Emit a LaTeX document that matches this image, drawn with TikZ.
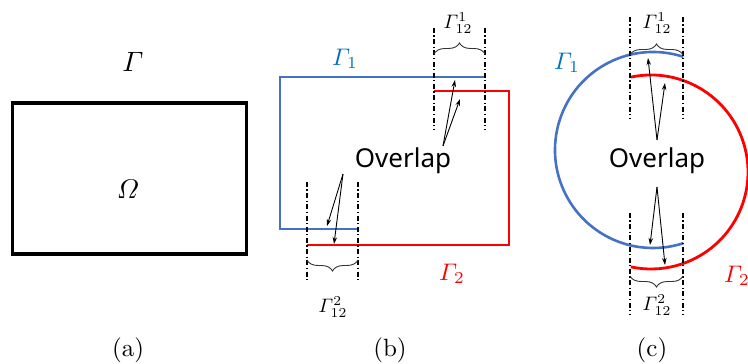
\documentclass[tikz,border=0pt]{standalone}
\usepackage{amsmath}
\usepackage{fontspec}
\newfontfamily\olfont{Noto Sans}
\usetikzlibrary{arrows.meta,decorations.pathreplacing}
\definecolor{gblue}{HTML}{4472C4}
\definecolor{lblue}{HTML}{0070C0}
\definecolor{gred}{HTML}{FF0000}
\tikzset{
  bline/.style={gblue,line width=2.6pt},
  rline/.style={gred,line width=2.8pt},
  dd/.style={black,line width=1.1pt,dash pattern=on 5pt off 2.5pt on 1.2pt off 2.5pt},
  brc/.style={decorate,decoration={brace,amplitude=11pt},line width=0.9pt,black!80},
  ptr/.style={-{Stealth[length=7pt,width=4.5pt]},line width=0.9pt},
  lab/.style={scale=2.5},
  glab/.style={scale=2.4},
  slab/.style={scale=1.95},
  ovl/.style={font=\olfont\fontsize{26}{30}\selectfont}
}
\begin{document}
\begin{tikzpicture}[x=1pt,y=1pt]
\useasboundingbox (0,0) rectangle (748,364);
% (a)
\node[draw,line width=3.4pt,minimum width=234pt,minimum height=151pt,inner sep=0pt] (rect) at (129.5,185.5) {};
\node[scale=2.8] (G) at (133,302) {$\varGamma$};
\node[scale=2.7] (Om) at (128,175) {$\varOmega$};
\node[lab] (capa) at (128,14) {(a)};
% (b)
\draw[bline] (358,135) -- (280,135) -- (280,287) -- (485,287);
\draw[rline] (307,119) -- (509,119) -- (509,273) -- (434,273);
\draw[dd] (434,336) -- (434,234);
\draw[dd] (485,336) -- (485,234);
\draw[dd] (307,182) -- (307,82);
\draw[dd] (358,182) -- (358,82);
\draw[brc] (434,310) -- (485,310);
\draw[brc] (358,104) -- (307,104);
\node[slab] (g121b) at (458,341) {$\varGamma_{12}^{1}$};
\node[slab] (g122b) at (333,57) {$\varGamma_{12}^{2}$};
\node[glab,text=lblue] (g1b) at (345,305) {$\varGamma_1$};
\node[glab,text=gred] (g2b) at (452,90) {$\varGamma_2$};
\node[ovl] (ovb) at (403,203) {Overlap};
\coordinate (bt) at (443,218);
\coordinate (bb) at (343,190);
\coordinate (bt1) at (455,284);
\coordinate (bt2) at (460,265);
\coordinate (bb1) at (327,138);
\coordinate (bb2) at (334,120);
\draw[ptr] (bt) -- (bt1);
\draw[ptr] (bt) -- (bt2);
\draw[ptr] (bb) -- (bb1);
\draw[ptr] (bb) -- (bb2);
\node[lab] (capb) at (390,14) {(b)};
% (c)
\draw[bline] (653,214) ++(72:98) arc[start angle=72,end angle=288,radius=98];
\draw[rline] (651,192) ++(102:97) arc[start angle=102,end angle=-102,radius=97];
\draw[dd] (630,347) -- (630,246);
\draw[dd] (683,347) -- (683,246);
\draw[dd] (630,151) -- (630,50);
\draw[dd] (683,151) -- (683,50);
\draw[brc] (630,309) -- (683,309);
\draw[brc] (683,88) -- (630,88);
\node[slab] (g121c) at (657,341) {$\varGamma_{12}^{1}$};
\node[slab] (g122c) at (657,59) {$\varGamma_{12}^{2}$};
\node[glab,text=lblue] (g1c) at (567,301) {$\varGamma_1$};
\node[glab,text=gred] (g2c) at (737,88) {$\varGamma_2$};
\node[ovl] (ovc) at (657,203) {Overlap};
\coordinate (ct) at (657,224);
\coordinate (cb) at (657,177);
\coordinate (ct1) at (648,306);
\coordinate (ct2) at (665,281);
\coordinate (cb1) at (650,119);
\coordinate (cb2) at (665,99);
\draw[ptr] (ct) -- (ct1);
\draw[ptr] (ct) -- (ct2);
\draw[ptr] (cb) -- (cb1);
\draw[ptr] (cb) -- (cb2);
\node[lab] (capc) at (652,14) {(c)};
\end{tikzpicture}
\end{document}
